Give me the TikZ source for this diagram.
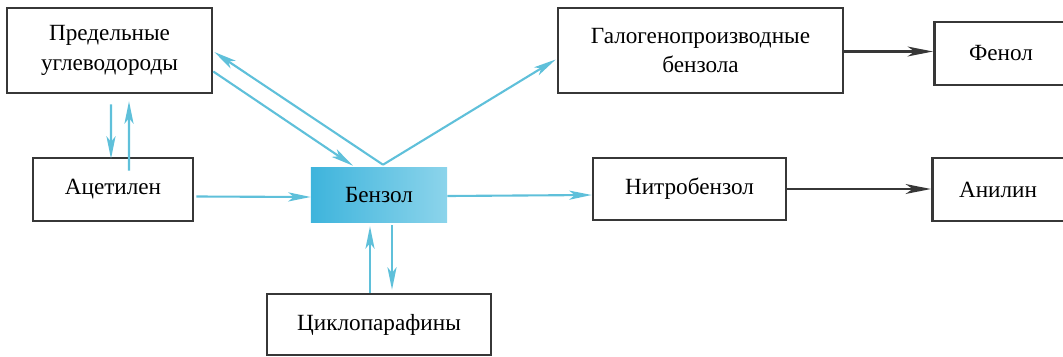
\documentclass[tikz,border=0pt]{standalone}
\usepackage{fontspec}
\setmainfont{Liberation Serif}
\usetikzlibrary{arrows.meta,calc}

\definecolor{flowcyan}{RGB}{95,192,218}
\definecolor{benzdark}{RGB}{62,180,220}
\definecolor{benzlight}{RGB}{140,212,235}
\definecolor{boxline}{RGB}{55,55,55}

\begin{document}
\begin{tikzpicture}[x=0.025cm, y=-0.025cm]
    \tikzset{box/.style={rectangle, draw=boxline, line width=1.8pt, fill=white, align=center,
        font=\fontsize{16.5}{21}\selectfont, inner sep=0pt}}
    \tikzset{label text/.style={font=\fontsize{16.5}{21}\selectfont, inner sep=0pt}}
    \tikzset{flow/.style={flowcyan, line width=1.5pt, -{Stealth[length=16pt, width=6.5pt, inset=4pt]}}}
    \tikzset{dark/.style={boxline, line width=1.8pt, -{Stealth[length=18pt, width=7pt, inset=5pt]}}}

    \useasboundingbox (0,0) rectangle (1063,356);
    \clip (0,0) rectangle (1063,356);

    % ── LEFT COLUMN ──────────────────────────────────────
    \node[box, minimum width=5.125cm, minimum height=2.125cm] (pred) at (109.5, 50.5)
        {Предельные\\углеводороды};
    \node[box, minimum width=4.0cm, minimum height=1.575cm] (acet) at (113, 189.5) {Ацетилен};

    % ── BENZENE ──────────────────────────────────────────
    \node[rectangle, left color=benzdark, right color=benzlight, minimum width=3.4cm,
        minimum height=1.35cm, label text] (benz) at (379, 195) {Бензол};
    \node[box, minimum width=5.6cm, minimum height=1.525cm] (cyclo) at (379, 324.5) {Циклопарафины};

    % ── RIGHT SIDE ───────────────────────────────────────
    \node[box, minimum width=7.125cm, minimum height=2.125cm] (halo) at (700.5, 50.5)
        {Галогенопроизводные\\бензола};
    \node[box, minimum width=4.825cm, minimum height=1.55cm] (nitro) at (689.5, 189) {Нитробензол};

    % boxes run past the right edge of the page
    \node[box, anchor=west, minimum width=4.5cm, minimum height=1.575cm] (phenol) at (933, 53.5) {};
    \node[label text] (phenoltext) at (1001, 53.5) {Фенол};
    \node[box, anchor=west, minimum width=4.5cm, minimum height=1.575cm] (anilin) at (931, 189.5) {};
    \node[label text] (anilintext) at (998, 189.5) {Анилин};

    % ── CYAN ARROWS ──────────────────────────────────────
    % Предельные <-> Ацетилен
    \draw[flow] ($(pred.south)+(1.5,10)$) -- ($(acet.north)+(-2,2)$);
    \draw[flow] ($(acet.north)+(16,14)$) -- ($(pred.south)+(19.5,7)$);

    % Предельные <-> Бензол
    \draw[flow] ($(benz.north)+(4,-3)$) -- ($(pred.east)+(1,1.5)$);
    \draw[flow] ($(pred.east)+(0,21)$) -- ($(benz.north)+(-26,-2)$);

    % Бензол -> Галогенопроизводные
    \draw[flow] ($(benz.north)+(4,-3)$) -- ($(halo.west)+(-1,9)$);

    % Ацетилен -> Бензол -> Нитробензол
    \draw[flow] ($(acet.east)+(2,7)$) -- ($(benz.west)+(0,2)$);
    \draw[flow] ($(benz.east)+(0,1)$) -- ($(nitro.west)+(0,6)$);

    % Бензол <-> Циклопарафины
    \draw[flow] ($(cyclo.north)+(-9,0)$) -- ($(benz.south)+(-9,4)$);
    \draw[flow] ($(benz.south)+(13,3)$) -- ($(cyclo.north)+(13,-3)$);

    % ── DARK ARROWS ──────────────────────────────────────
    \draw[dark] ($(halo.east)+(0,1)$) -- ($(phenol.west)+(0,-2)$);
    \draw[dark] (nitro.east) -- ($(anilin.west)+(0,-0.5)$);

\end{tikzpicture}
\end{document}
